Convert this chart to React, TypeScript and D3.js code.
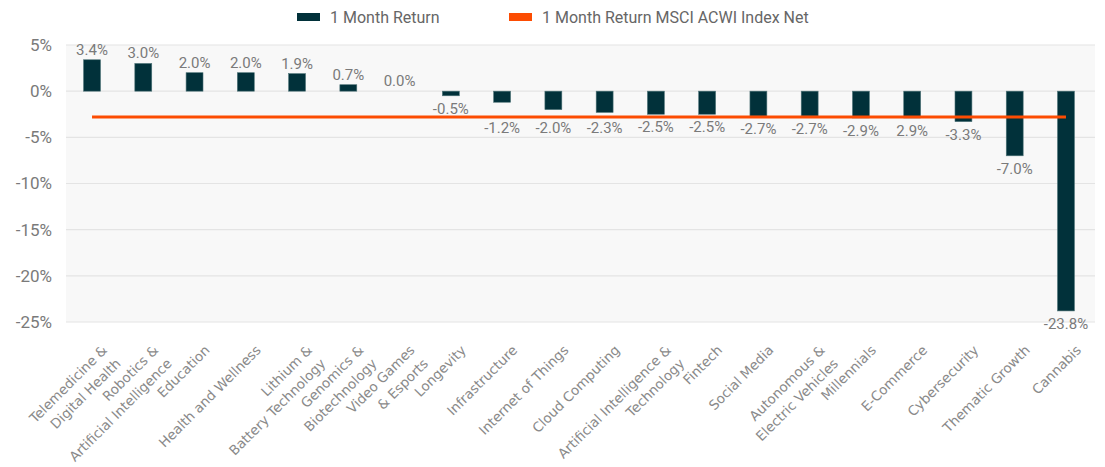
import * as d3 from "d3";
import { useEffect, useRef } from "react";

const categories = [
  "Telemedicine &\nDigital Health",
  "Robotics &\nArtificial Intelligence",
  "Education",
  "Health and Wellness",
  "Lithium &\nBattery Technology",
  "Genomics &\nBiotechnology",
  "Video Games\n& Esports",
  "Longevity",
  "Infrastructure",
  "Internet of Things",
  "Cloud Computing",
  "Artificial Intelligence &\nTechnology",
  "Fintech",
  "Social Media",
  "Autonomous &\nElectric Vehicles",
  "Millennials",
  "E-Commerce",
  "Cybersecurity",
  "Thematic Growth",
  "Cannabis",
];

const monthReturn = [
  3.4, 3.0, 2.0, 2.0, 1.9, 0.7, 0.0, -0.5, -1.2, -2.0, -2.3, -2.5, -2.5, -2.7, -2.7, -2.9, -2.9, -3.3, -7.0, -23.8,
];

// label text as printed on the chart (E-Commerce shows no minus sign)
const valueLabels = [
  "3.4%", "3.0%", "2.0%", "2.0%", "1.9%", "0.7%", "0.0%", "-0.5%", "-1.2%", "-2.0%",
  "-2.3%", "-2.5%", "-2.5%", "-2.7%", "-2.7%", "-2.9%", "2.9%", "-3.3%", "-7.0%", "-23.8%",
];

const acwiReturn = -2.8;

const yTicks = [5, 0, -5, -10, -15, -20, -25];

const legendItems = [
  { label: "1 Month Return", color: "#01313a", x: 297 },
  { label: "1 Month Return MSCI ACWI Index Net", color: "#fc4c02", x: 509 },
];

const WIDTH = 1105;
const HEIGHT = 467;
const BAR_COLOR = "#01313a";
const LINE_COLOR = "#fc4c02";

const drawChart = (svgElement: SVGSVGElement) => {
  const svg = d3.select(svgElement);
  svg.selectAll("*").remove();
  svg.attr("width", WIDTH).attr("height", HEIGHT);

  const plotLeft = 66;
  const plotRight = 1095;
  const plotTop = 45;
  const plotBottom = 322;

  const xScale = d3
    .scaleBand<string>()
    .domain(categories)
    .range([66.4, 1091.6])
    .paddingInner(0.67)
    .paddingOuter(0.335);

  const yScale = d3.scaleLinear().domain([-25, 5]).range([plotBottom, plotTop]);

  svg.append("rect").attr("width", WIDTH).attr("height", HEIGHT).attr("fill", "white");

  svg
    .append("rect")
    .attr("x", plotLeft)
    .attr("y", plotTop)
    .attr("width", plotRight - plotLeft)
    .attr("height", plotBottom - plotTop)
    .attr("fill", "#f8f8f8");

  // gridlines
  svg
    .append("g")
    .selectAll("line")
    .data(yTicks)
    .join("line")
    .attr("x1", plotLeft)
    .attr("x2", plotRight)
    .attr("y1", (d) => yScale(d))
    .attr("y2", (d) => yScale(d))
    .attr("stroke", "#e4e4e4")
    .attr("stroke-width", 1.2);

  // y axis labels
  svg
    .append("g")
    .selectAll("text")
    .data(yTicks)
    .join("text")
    .attr("x", 52)
    .attr("y", (d) => yScale(d))
    .attr("dy", "0.35em")
    .attr("text-anchor", "end")
    .style("font-family", "Roboto, sans-serif")
    .style("font-size", "17px")
    .attr("fill", "#7a7a7a")
    .text((d) => `${d}%`);

  const center = (name: string) => (xScale(name) ?? 0) + xScale.bandwidth() / 2;
  const lineY = yScale(acwiReturn);

  // bars
  svg
    .append("g")
    .selectAll("rect")
    .data(monthReturn)
    .join("rect")
    .attr("x", (_, i) => xScale(categories[i]) ?? 0)
    .attr("y", (d) => yScale(Math.max(0, d)))
    .attr("width", xScale.bandwidth())
    .attr("height", (d) => Math.abs(yScale(d) - yScale(0)))
    .attr("fill", BAR_COLOR)
    .attr("stroke", "#4f7478")
    .attr("stroke-width", 0.6);

  // benchmark line
  svg
    .append("line")
    .attr("x1", center(categories[0]))
    .attr("x2", center(categories[categories.length - 1]))
    .attr("y1", lineY)
    .attr("y2", lineY)
    .attr("stroke", LINE_COLOR)
    .attr("stroke-width", 3);

  // value labels; negative ones that would hit the benchmark line go below it
  const labelY = (d: number) => {
    if (d >= 0) return yScale(d) - 5;
    const below = yScale(d) + 18;
    if (below > lineY - 2 && below - 12 < lineY + 2) return Math.max(below, lineY + 16);
    return below;
  };

  svg
    .append("g")
    .selectAll("text")
    .data(monthReturn)
    .join("text")
    .attr("x", (_, i) => center(categories[i]))
    .attr("y", (d) => labelY(d))
    .attr("text-anchor", "middle")
    .style("font-family", "Roboto, sans-serif")
    .style("font-size", "15px")
    .attr("fill", "#7a7a7a")
    .text((_, i) => valueLabels[i]);

  // category labels, rotated, right aligned
  const labelGroups = svg
    .append("g")
    .selectAll("g")
    .data(categories)
    .join("g")
    .attr("transform", (d) => `translate(${center(d) + 16},351) rotate(-45)`);

  labelGroups
    .selectAll("text")
    .data((d) => d.split("\n"))
    .join("text")
    .attr("x", 0)
    .attr("y", (_, i) => i * 19)
    .attr("text-anchor", "end")
    .style("font-family", "'DejaVu Sans', sans-serif")
    .style("font-size", "13.5px")
    .attr("fill", "#8a8a8a")
    .text((d) => d);

  // legend
  const legend = svg
    .append("g")
    .selectAll("g")
    .data(legendItems)
    .join("g")
    .attr("transform", (d) => `translate(${d.x},17)`);

  legend
    .append("rect")
    .attr("x", 0)
    .attr("y", -4)
    .attr("width", 23)
    .attr("height", 8)
    .attr("fill", (d) => d.color);

  legend
    .append("text")
    .attr("x", 33)
    .attr("y", 0)
    .attr("dy", "0.35em")
    .style("font-family", "Roboto, sans-serif")
    .style("font-size", "16px")
    .attr("fill", "#666")
    .text((d) => d.label);
};

const App = () => {
  const svgRef = useRef<SVGSVGElement | null>(null);

  useEffect(() => {
    if (svgRef.current) drawChart(svgRef.current);
  }, []);

  return (
    <div style={{ position: "absolute", left: 0, top: 0, width: WIDTH, height: HEIGHT }}>
      <svg ref={svgRef} style={{ display: "block" }} />
    </div>
  );
};

export default App;
